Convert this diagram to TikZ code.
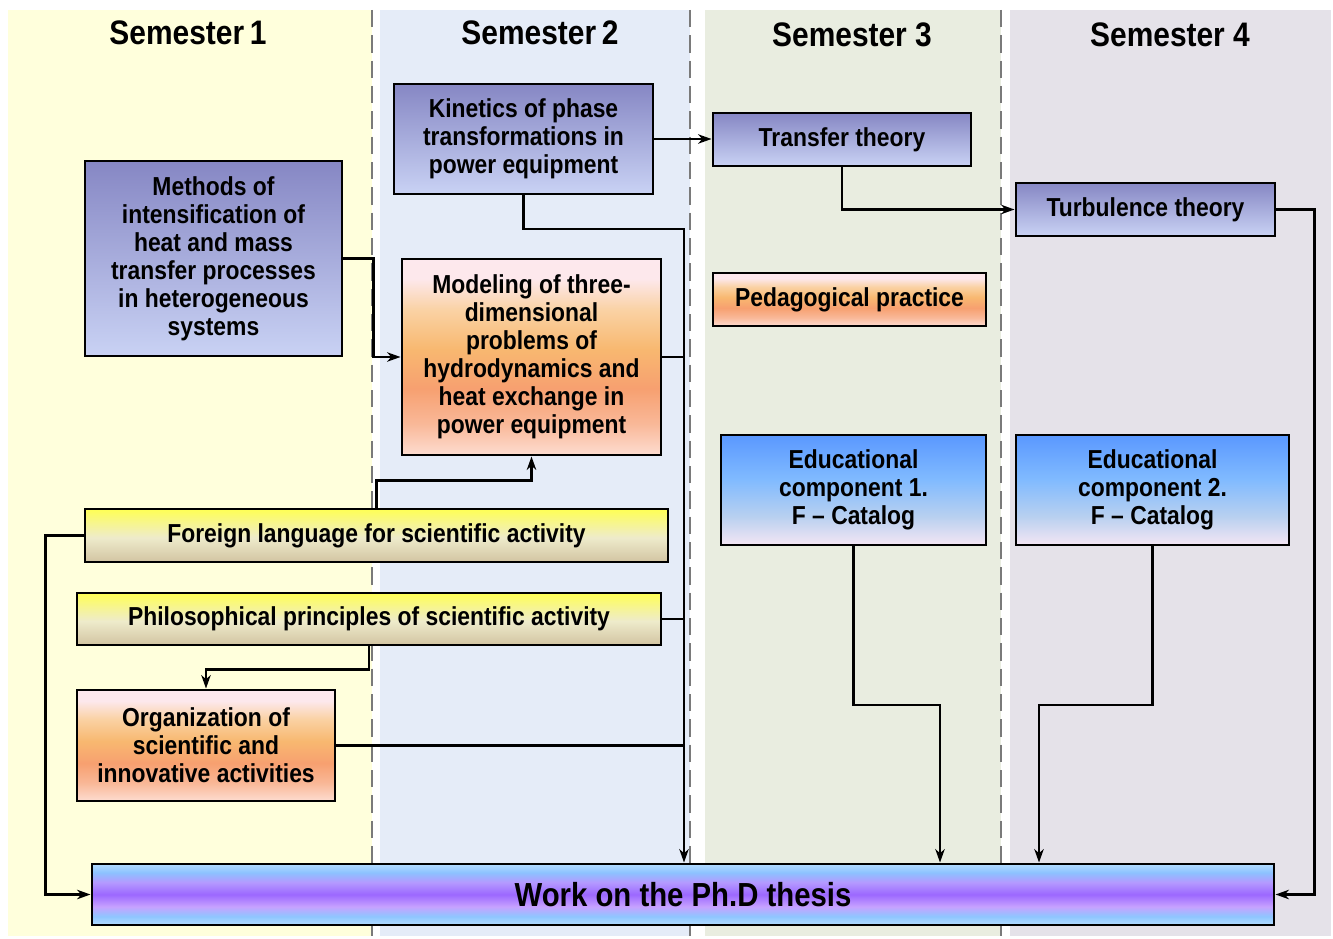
\documentclass[tikz,border=0pt]{standalone}
\usepackage{fontspec}
\setmainfont{Liberation Sans}
\newfontfamily\narrowfont[FakeStretch=0.88]{Liberation Sans}
\usetikzlibrary{positioning,arrows.meta}
\newcommand\boxfont{\narrowfont\bfseries\fontsize{19.5pt}{21pt}\selectfont}
\newcommand\headfont{\narrowfont\bfseries\fontsize{25.5pt}{28pt}\selectfont}
\definecolor{semone}{HTML}{FFFFDC}
\definecolor{semtwo}{HTML}{E5ECF8}
\definecolor{semthree}{HTML}{E9EDE0}
\definecolor{semfour}{HTML}{E5E2E9}
\definecolor{dashgray}{HTML}{7A7A7A}
\pgfdeclareverticalshading{violetshade}{100bp}{color(0bp)=(rgb,255:red,201;green,210;blue,244); color(25bp)=(rgb,255:red,201;green,210;blue,244); color(75bp)=(rgb,255:red,134;green,135;blue,196); color(100bp)=(rgb,255:red,134;green,135;blue,196)}
\pgfdeclareverticalshading{orangeshade}{100bp}{color(0bp)=(rgb,255:red,253;green,220;blue,208); color(25bp)=(rgb,255:red,253;green,220;blue,208); color(33bp)=(rgb,255:red,249;green,184;blue,152); color(42bp)=(rgb,255:red,247;green,160;blue,112); color(52bp)=(rgb,255:red,248;green,184;blue,112); color(62bp)=(rgb,255:red,250;green,210;blue,164); color(70bp)=(rgb,255:red,253;green,232;blue,236); color(100bp)=(rgb,255:red,253;green,235;blue,240)}
\pgfdeclareverticalshading{blueshade}{100bp}{color(0bp)=(rgb,255:red,244;green,230;blue,244); color(25bp)=(rgb,255:red,244;green,230;blue,244); color(38bp)=(rgb,255:red,184;green,208;blue,240); color(55bp)=(rgb,255:red,128;green,186;blue,255); color(75bp)=(rgb,255:red,90;green,152;blue,255); color(100bp)=(rgb,255:red,90;green,152;blue,255)}
\pgfdeclareverticalshading{yellowshade}{100bp}{color(0bp)=(rgb,255:red,210;green,196;blue,162); color(25bp)=(rgb,255:red,210;green,196;blue,162); color(48bp)=(rgb,255:red,238;green,235;blue,203); color(75bp)=(rgb,255:red,255;green,255;blue,85); color(100bp)=(rgb,255:red,255;green,255;blue,85)}
\pgfdeclareverticalshading{thesisshade}{100bp}{color(0bp)=(rgb,255:red,180;green,220;blue,255); color(25bp)=(rgb,255:red,180;green,220;blue,255); color(32bp)=(rgb,255:red,142;green,198;blue,255); color(40bp)=(rgb,255:red,199;green,162;blue,255); color(50bp)=(rgb,255:red,156;green,104;blue,255); color(60bp)=(rgb,255:red,180;green,154;blue,255); color(68bp)=(rgb,255:red,140;green,194;blue,255); color(75bp)=(rgb,255:red,180;green,220;blue,255); color(100bp)=(rgb,255:red,180;green,220;blue,255)}
\tikzset{
  box/.style={draw, line width=2.2pt, align=center, inner sep=0pt, font=\boxfont},
  violetbox/.style={box, shading=violetshade},
  orangebox/.style={box, shading=orangeshade},
  bluebox/.style={box, shading=blueshade},
  yellowbox/.style={box, shading=yellowshade},
  head/.style={font=\headfont},
  link/.style={line width=1.8pt},
  arr/.style={link, -{Stealth[length=10pt, width=7pt, inset=3pt]}},
  semdash/.style={dashgray, line width=2pt, dash pattern=on 13pt off 6pt}
}
\begin{document}
\begin{tikzpicture}[x=0.75pt, y=-0.75pt]
\useasboundingbox (0,0) rectangle (1333,938);
\fill[semone] (8,10) rectangle (372,936);
\fill[semtwo] (380,10) rectangle (690,936);
\fill[semthree] (705,10) rectangle (1001,936);
\fill[semfour] (1010,10) rectangle (1331,936);
\draw[semdash] (372,10) -- (372,936);
\draw[semdash] (690,10) -- (690,936);
\draw[semdash] (1001,10) -- (1001,936);

\node[head] (sem1) at (188,33) {Semester\,1};
\node[head] (sem2) at (540,33) {Semester\,2};
\node[head] (sem3) at (852,35) {Semester 3};
\node[head] (sem4) at (1170,35) {Semester 4};

\node[violetbox, minimum width=194.25pt, minimum height=82.5pt] (kinetics) at (523.5,139) {Kinetics of phase\\transformations in\\power equipment};
\node[violetbox, minimum width=192.75pt, minimum height=146.25pt] (methods) at (213.5,258.5) {Methods of\\intensification of\\heat and mass\\transfer processes\\in heterogeneous\\systems};
\node[orangebox, minimum width=194.25pt, minimum height=147pt] (modeling) at (531.5,357) {Modeling of three-\\dimensional\\problems of\\hydrodynamics and\\heat exchange  in\\power equipment};
\node[violetbox, minimum width=193.5pt, minimum height=39.75pt] (transfer) at (842,139.5) {Transfer theory};
\node[violetbox, minimum width=194.25pt, minimum height=39.75pt] (turbulence) at (1145.5,209.5) {Turbulence theory};
\node[orangebox, minimum width=204.75pt, minimum height=39.75pt] (pedagog) at (849.5,299.5) {Pedagogical practice};
\node[bluebox, minimum width=198.75pt, minimum height=82.5pt] (educ1) at (853.5,490) {Educational\\component 1.\\F – Catalog};
\node[bluebox, minimum width=204.75pt, minimum height=82.5pt] (educ2) at (1152.5,490) {Educational\\component 2.\\F – Catalog};
\node[yellowbox, minimum width=437.25pt, minimum height=39.75pt] (foreign) at (376.5,535.5) {Foreign language for scientific activity};
\node[yellowbox, minimum width=438pt, minimum height=39pt] (philos) at (369,619) {Philosophical principles of scientific activity};
\node[orangebox, minimum width=193.5pt, minimum height=83.25pt] (organiz) at (206,745.5) {Organization of\\scientific and\\innovative activities};
\node[box, shading=thesisshade, minimum width=886.5pt, minimum height=45.75pt, font={\narrowfont\bfseries\fontsize{25pt}{27pt}\selectfont}] (thesis) at (683,894.5) {Work on the Ph.D thesis};

\coordinate (bus) at (684,229);
\coordinate (bend1) at (940,705);
\coordinate (bend2) at (1039,705);

\draw[arr] (kinetics.east) -- (kinetics.east -| transfer.west);
\draw[arr, line width=2.2pt] (kinetics.south) |- (bus) -- (bus |- thesis.north);
\draw[arr] (methods.east) -- ++(30,0) |- (modeling.west);
\draw[link] (modeling.east) -- (modeling.east -| bus);
\draw[arr] (transfer.south) |- (turbulence.west);
\draw[arr] (turbulence.east) -- ++(38,0) |- (thesis.east);
\draw[arr] (foreign.north) -- ++(0,-27) -| (modeling.south);
\draw[arr] (foreign.west) -- ++(-38,0) |- (thesis.west);
\draw[link] (philos.east) -- (philos.east -| bus);
\draw[arr] (philos.south) -- ++(0,23) -| (organiz.north);
\draw[link] (organiz.east) -- (organiz.east -| bus);
\draw[arr] (educ1.south) |- (bend1) -- (bend1 |- thesis.north);
\draw[arr] (educ2.south) |- (bend2) -- (bend2 |- thesis.north);
\end{tikzpicture}
\end{document}
